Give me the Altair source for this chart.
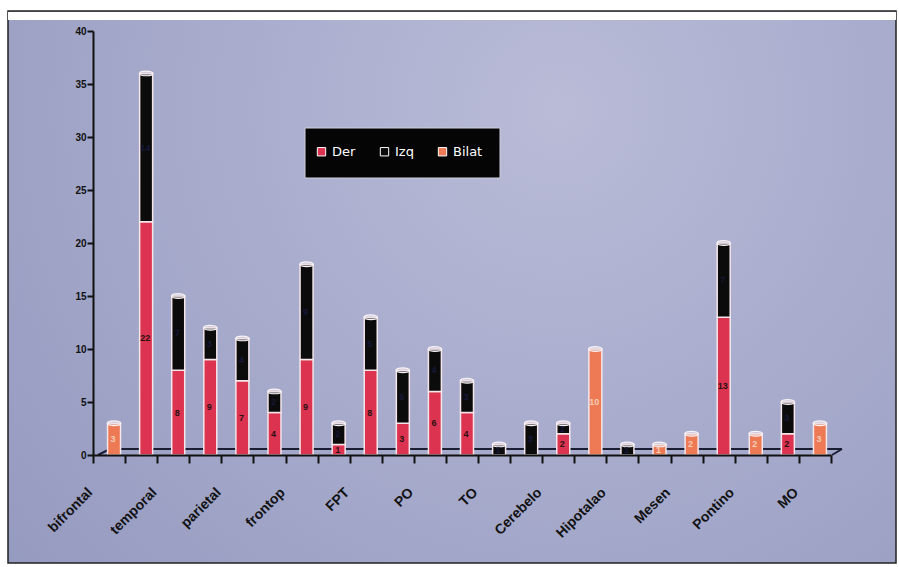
import altair as alt
import pandas as pd

# Region labels, shown under every other bar
regions = ["bifrontal", "temporal", "parietal", "frontop", "FPT", "PO", "TO",
           "Cerebelo", "Hipotalao", "Mesen", "Pontino", "MO"]

# Counts per bar position (23 bars)
der   = [0, 22, 8, 9, 7, 4, 9, 1, 8, 3, 6, 4, 0, 0, 2, 0, 0, 0, 0, 13, 0, 2, 0]
izq   = [0, 14, 7, 3, 4, 2, 9, 2, 5, 5, 4, 3, 1, 3, 1, 0, 1, 0, 0, 7, 0, 3, 0]
bilat = [3, 0, 0, 0, 0, 0, 0, 0, 0, 0, 0, 0, 0, 0, 0, 10, 0, 1, 2, 0, 2, 0, 3]

series = ["Der", "Izq", "Bilat"]
colors = ["#dc3450", "#0b0b0b", "#ee7a55"]
label_colors = ["#2a1010", "#15183a", "#f6cdb5"]

rows = []
for i in range(len(der)):
    for k, vals in enumerate([der, izq, bilat]):
        if vals[i] > 0:
            rows.append({"pos": i, "serie": series[k], "orden": k,
                         "valor": vals[i], "lblcolor": label_colors[k]})
df = pd.DataFrame(rows)

names_js = "[" + ",".join(
    "'" + (regions[i // 2] if i % 2 == 0 else "") + "'" for i in range(len(der))
) + "]"

W, H = 738, 424

x_enc = alt.X("pos:O",
              scale=alt.Scale(domain=list(range(len(der))), paddingInner=0, paddingOuter=0),
              axis=alt.Axis(title=None, labelExpr=f"{names_js}[datum.value]",
                            labelAngle=-45, labelAlign="right", labelBaseline="middle",
                            labelOffset=-19, labelPadding=27, labelFontSize=14,
                            labelFont="Liberation Sans", labelFontWeight="bold",
                            labelColor="#111111", tickBand="extent", tickSize=8,
                            tickWidth=2, tickColor="#111111", domainColor="#111111",
                            domainWidth=2, grid=False, zindex=2))

y_scale = alt.Scale(domain=[0, 40], nice=False)

one = pd.DataFrame({"k": [0]})

background = alt.Chart(one).mark_rect(
    fill=alt.Gradient(
        gradient="radial",
        stops=[alt.GradientStop(color="#b9bbd7", offset=0),
               alt.GradientStop(color="#a3a7c9", offset=0.55),
               alt.GradientStop(color="#9196bc", offset=1)],
        x1=0.62, y1=0.3, r1=0, x2=0.62, y2=0.3, r2=0.9),
    stroke="#222222", strokeWidth=1.5,
).encode(x=alt.value(-85), x2=alt.value(803), y=alt.value(-20), y2=alt.value(532))

white_strip = alt.Chart(one).mark_rect(color="white").encode(
    x=alt.value(-85), x2=alt.value(803), y=alt.value(-19), y2=alt.value(-11))

# Legend panel
legend_box = alt.Chart(one).mark_rect(color="#050505", stroke="#cfd0dc", strokeWidth=1).encode(
    x=alt.value(212), x2=alt.value(407), y=alt.value(97), y2=alt.value(147))

# Floor of the bar area
floor_top = alt.Chart(one).mark_rule(color="#1b1d33", strokeWidth=2).encode(
    x=alt.value(17), x2=alt.value(749), y=alt.value(418), y2=alt.value(418))
floor_left = alt.Chart(one).mark_rule(color="#1b1d33", strokeWidth=2).encode(
    x=alt.value(5), x2=alt.value(17), y=alt.value(424), y2=alt.value(418))
floor_right = alt.Chart(one).mark_rule(color="#1b1d33", strokeWidth=2).encode(
    x=alt.value(739), x2=alt.value(749), y=alt.value(424), y2=alt.value(418))

bars = alt.Chart(df).mark_bar(size=13, xOffset=5, stroke="#f4e6ea", strokeWidth=1.5).encode(
    x=x_enc,
    y=alt.Y("valor:Q", stack="zero", scale=y_scale,
            axis=alt.Axis(title=None, values=list(range(0, 41, 5)), tickSize=6,
                          tickWidth=2, tickColor="#111111", domainColor="#111111",
                          domainWidth=2, labelFontSize=10, labelFont="Liberation Sans",
                          labelFontWeight="bold", labelColor="#111111", grid=False,
                          labelPadding=1, zindex=2)),
    color=alt.Color("serie:N",
                    scale=alt.Scale(domain=series, range=colors),
                    legend=alt.Legend(title=None, orient="none", legendX=222, legendY=114,
                                      direction="horizontal", columns=3, padding=0,
                                      symbolType="square", symbolSize=70,
                                      symbolStrokeColor="#ffffff", symbolStrokeWidth=1,
                                      labelColor="#ffffff", labelFontSize=13,
                                      labelFont="DejaVu Sans", columnPadding=22,
                                      labelOffset=4)),
    order=alt.Order("orden:Q"),
)

# Elliptical caps on top of each column
caps = alt.Chart(df).transform_aggregate(total="sum(valor)", groupby=["pos"]).mark_point(
    shape="M -1 0 A 1 0.35 0 1 1 1 0 A 1 0.35 0 1 1 -1 0 Z",
    size=180, filled=True, fill="#e9dfe6", fillOpacity=0.55, stroke="#f7f2f5",
    strokeWidth=1.2, xOffset=5, opacity=1,
).encode(x=alt.X("pos:O"), y=alt.Y("total:Q", scale=y_scale))

labels = alt.Chart(df).transform_stack(
    stack="valor", groupby=["pos"], as_=["v0", "v1"],
    sort=[alt.SortField(field="orden", order="ascending")],
).transform_calculate(mid="(datum.v0 + datum.v1) / 2").mark_text(
    fontSize=9, fontWeight="bold", font="Liberation Sans", xOffset=5, dx=-1,
).encode(
    x=alt.X("pos:O"),
    y=alt.Y("mid:Q", scale=y_scale),
    text=alt.Text("valor:Q"),
    color=alt.Color("lblcolor:N", scale=None),
)

chart = alt.layer(background, white_strip, legend_box, floor_top, floor_left, floor_right,
                  bars, caps, labels).properties(
    width=W, height=H,
    padding={"left": 93, "top": 31, "right": 899 - 93 - W, "bottom": 567 - 31 - H},
    autosize=alt.AutoSizeParams(type="none"),
    background="white",
).configure_view(stroke=None)

chart.save("out.html", embed_options={"renderer": "svg", "actions": False})
